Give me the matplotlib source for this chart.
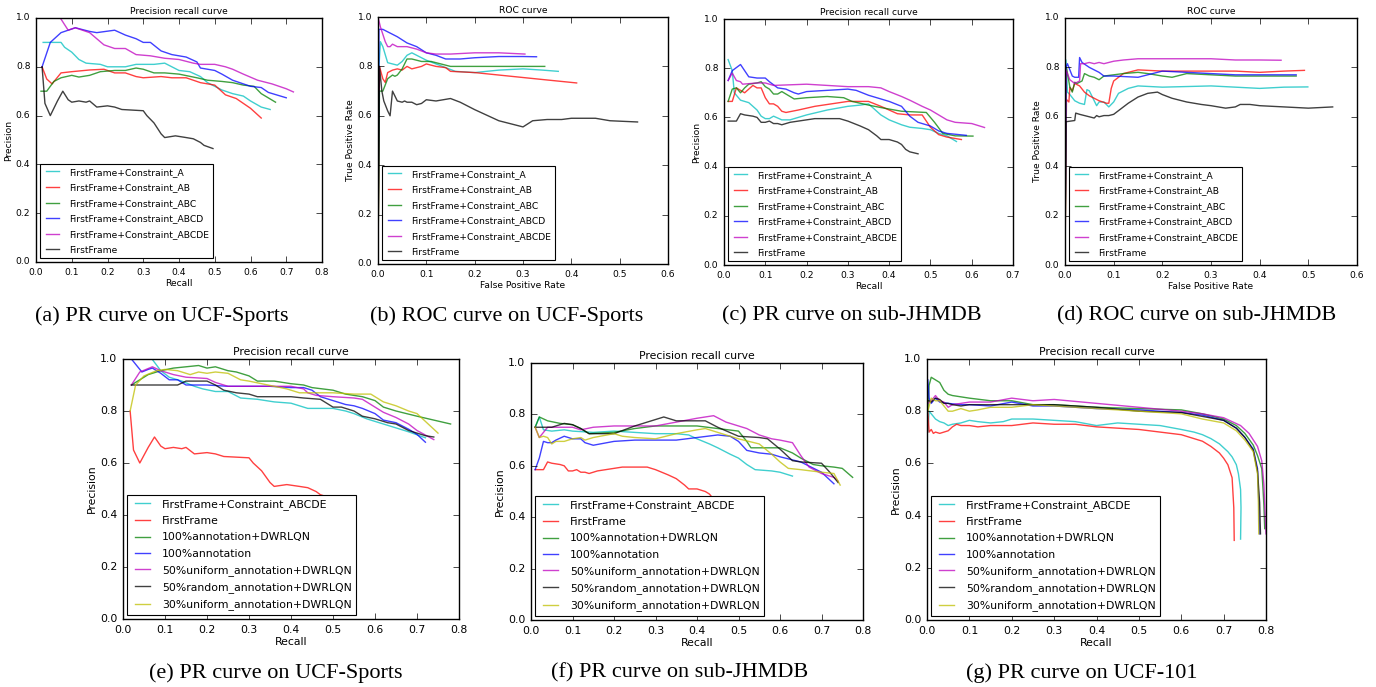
import numpy as np
import matplotlib
matplotlib.use("Agg")
import matplotlib.pyplot as plt

plt.style.use("classic")
plt.rcParams["figure.facecolor"] = "white"
plt.rcParams["savefig.facecolor"] = "white"

# ---------------- (a) PR on UCF-Sports ----------------
a_A_x = [0.02, 0.07, 0.08, 0.10, 0.12, 0.14, 0.18, 0.20, 0.25, 0.28, 0.33, 0.36, 0.38, 0.40, 0.43, 0.46, 0.48, 0.52, 0.55, 0.58, 0.60, 0.63, 0.655]
a_A_y = [0.90, 0.90, 0.88, 0.86, 0.83, 0.815, 0.81, 0.80, 0.80, 0.81, 0.81, 0.815, 0.80, 0.785, 0.78, 0.76, 0.735, 0.705, 0.69, 0.68, 0.66, 0.635, 0.625]
a_AB_x = [0.017, 0.03, 0.045, 0.07, 0.10, 0.15, 0.19, 0.22, 0.25, 0.28, 0.30, 0.35, 0.38, 0.42, 0.46, 0.50, 0.53, 0.56, 0.58, 0.60, 0.63]
a_AB_y = [0.80, 0.75, 0.73, 0.775, 0.78, 0.787, 0.79, 0.775, 0.775, 0.76, 0.755, 0.76, 0.755, 0.755, 0.735, 0.725, 0.685, 0.67, 0.65, 0.63, 0.59]
a_ABC_x = [0.014, 0.03, 0.05, 0.07, 0.10, 0.12, 0.15, 0.18, 0.22, 0.25, 0.28, 0.30, 0.33, 0.36, 0.40, 0.45, 0.48, 0.52, 0.55, 0.58, 0.61, 0.63, 0.67]
a_ABC_y = [0.70, 0.70, 0.74, 0.755, 0.765, 0.758, 0.765, 0.78, 0.785, 0.785, 0.795, 0.79, 0.775, 0.775, 0.77, 0.755, 0.745, 0.74, 0.735, 0.725, 0.72, 0.69, 0.655]
a_ABCD_x = [0.017, 0.04, 0.07, 0.11, 0.15, 0.17, 0.22, 0.25, 0.28, 0.30, 0.32, 0.35, 0.38, 0.42, 0.45, 0.46, 0.50, 0.52, 0.55, 0.58, 0.60, 0.63, 0.65, 0.70]
a_ABCD_y = [0.80, 0.90, 0.94, 0.96, 0.945, 0.94, 0.95, 0.93, 0.915, 0.90, 0.90, 0.865, 0.85, 0.84, 0.82, 0.795, 0.785, 0.77, 0.745, 0.73, 0.72, 0.715, 0.695, 0.673]
a_ABCDE_x = [0.02, 0.068, 0.09, 0.11, 0.15, 0.19, 0.22, 0.25, 0.28, 0.32, 0.36, 0.40, 0.44, 0.46, 0.50, 0.53, 0.55, 0.58, 0.62, 0.66, 0.70, 0.72]
a_ABCDE_y = [1.0, 1.0, 0.95, 0.96, 0.94, 0.89, 0.875, 0.875, 0.85, 0.845, 0.835, 0.83, 0.815, 0.81, 0.81, 0.80, 0.79, 0.77, 0.745, 0.73, 0.71, 0.697]
a_FF_x = [0.017, 0.025, 0.04, 0.06, 0.075, 0.09, 0.10, 0.12, 0.14, 0.15, 0.17, 0.20, 0.22, 0.24, 0.30, 0.31, 0.33, 0.35, 0.36, 0.39, 0.42, 0.44, 0.46, 0.47, 0.495]
a_FF_y = [0.80, 0.65, 0.60, 0.66, 0.70, 0.665, 0.655, 0.66, 0.655, 0.66, 0.635, 0.64, 0.635, 0.625, 0.62, 0.60, 0.57, 0.525, 0.51, 0.517, 0.51, 0.505, 0.49, 0.478, 0.465]

# ---------------- (b) ROC on UCF-Sports ----------------
b_A_x = [0, 0.002, 0.005, 0.01, 0.02, 0.03, 0.04, 0.05, 0.06, 0.07, 0.08, 0.10, 0.12, 0.14, 0.16, 0.20, 0.25, 0.30, 0.34, 0.373]
b_A_y = [0, 0.80, 0.90, 0.88, 0.815, 0.81, 0.805, 0.82, 0.845, 0.855, 0.845, 0.825, 0.81, 0.795, 0.78, 0.775, 0.785, 0.79, 0.785, 0.78]
b_AB_x = [0, 0.003, 0.01, 0.015, 0.02, 0.03, 0.04, 0.05, 0.06, 0.07, 0.08, 0.09, 0.10, 0.12, 0.14, 0.15, 0.20, 0.25, 0.30, 0.35, 0.411]
b_AB_y = [0, 0.80, 0.75, 0.735, 0.775, 0.785, 0.79, 0.785, 0.80, 0.79, 0.795, 0.80, 0.81, 0.80, 0.795, 0.78, 0.775, 0.765, 0.755, 0.745, 0.733]
b_ABC_x = [0, 0.003, 0.01, 0.02, 0.03, 0.035, 0.04, 0.05, 0.06, 0.07, 0.09, 0.11, 0.13, 0.15, 0.20, 0.30, 0.345]
b_ABC_y = [0, 0.70, 0.70, 0.75, 0.765, 0.76, 0.765, 0.79, 0.83, 0.83, 0.82, 0.82, 0.81, 0.80, 0.80, 0.80, 0.80]
b_ABCD_x = [0, 0.002, 0.01, 0.02, 0.04, 0.06, 0.08, 0.10, 0.12, 0.14, 0.17, 0.20, 0.25, 0.30, 0.328]
b_ABCD_y = [0, 0.95, 0.95, 0.94, 0.92, 0.895, 0.88, 0.855, 0.845, 0.83, 0.83, 0.835, 0.84, 0.84, 0.839]
b_ABCDE_x = [0, 0.005, 0.01, 0.015, 0.02, 0.025, 0.03, 0.035, 0.04, 0.06, 0.08, 0.10, 0.12, 0.15, 0.20, 0.25, 0.304]
b_ABCDE_y = [1.0, 0.96, 0.93, 0.90, 0.88, 0.88, 0.89, 0.885, 0.88, 0.88, 0.87, 0.855, 0.85, 0.85, 0.855, 0.855, 0.85]
b_FF_x = [0, 0.003, 0.008, 0.012, 0.02, 0.025, 0.03, 0.035, 0.04, 0.05, 0.055, 0.06, 0.07, 0.08, 0.09, 0.10, 0.12, 0.15, 0.17, 0.20, 0.25, 0.30, 0.32, 0.35, 0.38, 0.40, 0.45, 0.48, 0.537]
b_FF_y = [0, 0.80, 0.70, 0.66, 0.62, 0.60, 0.70, 0.68, 0.66, 0.655, 0.66, 0.655, 0.655, 0.645, 0.65, 0.665, 0.66, 0.67, 0.655, 0.625, 0.58, 0.555, 0.58, 0.585, 0.585, 0.59, 0.59, 0.58, 0.575]

# ---------------- (c) PR on sub-JHMDB ----------------
c_A_x = [0.01, 0.02, 0.025, 0.03, 0.04, 0.05, 0.06, 0.07, 0.08, 0.09, 0.10, 0.11, 0.12, 0.14, 0.16, 0.20, 0.25, 0.30, 0.33, 0.35, 0.36, 0.38, 0.40, 0.43, 0.45, 0.48, 0.50, 0.52, 0.54, 0.563]
c_A_y = [0.835, 0.79, 0.70, 0.69, 0.67, 0.665, 0.66, 0.645, 0.63, 0.605, 0.595, 0.595, 0.605, 0.59, 0.59, 0.61, 0.63, 0.645, 0.65, 0.655, 0.64, 0.61, 0.59, 0.57, 0.56, 0.555, 0.55, 0.535, 0.525, 0.502]
c_AB_x = [0.01, 0.02, 0.03, 0.04, 0.05, 0.07, 0.08, 0.09, 0.10, 0.11, 0.12, 0.13, 0.14, 0.15, 0.18, 0.22, 0.26, 0.30, 0.35, 0.38, 0.40, 0.42, 0.45, 0.48, 0.50, 0.52, 0.54, 0.575]
c_AB_y = [0.665, 0.665, 0.72, 0.71, 0.70, 0.73, 0.72, 0.72, 0.68, 0.655, 0.655, 0.645, 0.625, 0.62, 0.63, 0.645, 0.655, 0.665, 0.665, 0.645, 0.63, 0.615, 0.61, 0.61, 0.56, 0.53, 0.52, 0.51]
c_ABC_x = [0.01, 0.02, 0.03, 0.04, 0.05, 0.06, 0.08, 0.09, 0.10, 0.11, 0.12, 0.13, 0.14, 0.15, 0.17, 0.20, 0.25, 0.29, 0.31, 0.35, 0.38, 0.43, 0.49, 0.51, 0.53, 0.56, 0.603]
c_ABC_y = [0.665, 0.715, 0.72, 0.70, 0.72, 0.735, 0.74, 0.745, 0.725, 0.715, 0.695, 0.695, 0.705, 0.695, 0.675, 0.68, 0.685, 0.68, 0.665, 0.65, 0.64, 0.625, 0.62, 0.58, 0.535, 0.525, 0.524]
c_ABCD_x = [0.01, 0.02, 0.04, 0.05, 0.06, 0.08, 0.10, 0.11, 0.13, 0.15, 0.17, 0.18, 0.20, 0.25, 0.30, 0.32, 0.35, 0.40, 0.43, 0.45, 0.47, 0.50, 0.52, 0.54, 0.587]
c_ABCD_y = [0.75, 0.79, 0.815, 0.79, 0.765, 0.76, 0.76, 0.745, 0.72, 0.715, 0.70, 0.695, 0.705, 0.71, 0.715, 0.71, 0.69, 0.665, 0.645, 0.605, 0.58, 0.565, 0.545, 0.535, 0.527]
c_ABCDE_x = [0.01, 0.02, 0.03, 0.04, 0.045, 0.08, 0.10, 0.12, 0.20, 0.25, 0.30, 0.35, 0.38, 0.40, 0.43, 0.45, 0.48, 0.50, 0.52, 0.54, 0.56, 0.60, 0.631]
c_ABCDE_y = [0.75, 0.78, 0.75, 0.745, 0.735, 0.74, 0.74, 0.73, 0.735, 0.73, 0.725, 0.725, 0.72, 0.705, 0.685, 0.67, 0.645, 0.63, 0.61, 0.59, 0.58, 0.575, 0.559]
c_FF_x = [0.01, 0.03, 0.04, 0.05, 0.07, 0.08, 0.09, 0.10, 0.11, 0.12, 0.13, 0.14, 0.16, 0.20, 0.22, 0.28, 0.30, 0.33, 0.35, 0.37, 0.38, 0.40, 0.42, 0.43, 0.44, 0.45, 0.47]
c_FF_y = [0.585, 0.585, 0.615, 0.61, 0.605, 0.60, 0.58, 0.58, 0.585, 0.575, 0.575, 0.57, 0.58, 0.59, 0.595, 0.595, 0.585, 0.565, 0.55, 0.525, 0.51, 0.51, 0.50, 0.49, 0.47, 0.46, 0.452]

# ---------------- (d) ROC on sub-JHMDB ----------------
d_A_x = [0, 0.002, 0.005, 0.01, 0.02, 0.03, 0.04, 0.045, 0.05, 0.06, 0.065, 0.07, 0.08, 0.09, 0.10, 0.11, 0.13, 0.15, 0.20, 0.30, 0.35, 0.40, 0.45, 0.499]
d_A_y = [0, 0.83, 0.70, 0.69, 0.665, 0.655, 0.65, 0.71, 0.705, 0.665, 0.645, 0.66, 0.66, 0.64, 0.66, 0.695, 0.715, 0.725, 0.72, 0.725, 0.72, 0.715, 0.72, 0.721]
d_AB_x = [0, 0.003, 0.008, 0.01, 0.015, 0.02, 0.03, 0.04, 0.05, 0.06, 0.07, 0.085, 0.09, 0.095, 0.10, 0.12, 0.15, 0.20, 0.30, 0.35, 0.40, 0.45, 0.492]
d_AB_y = [0, 0.67, 0.66, 0.72, 0.705, 0.735, 0.725, 0.70, 0.685, 0.675, 0.665, 0.655, 0.655, 0.715, 0.745, 0.775, 0.79, 0.785, 0.785, 0.785, 0.78, 0.785, 0.788]
d_ABC_x = [0, 0.003, 0.01, 0.015, 0.02, 0.025, 0.03, 0.035, 0.04, 0.05, 0.06, 0.07, 0.08, 0.10, 0.12, 0.15, 0.17, 0.20, 0.22, 0.25, 0.30, 0.35, 0.40, 0.475]
d_ABC_y = [0, 0.80, 0.72, 0.70, 0.74, 0.735, 0.74, 0.745, 0.775, 0.765, 0.76, 0.75, 0.765, 0.77, 0.775, 0.78, 0.775, 0.765, 0.76, 0.775, 0.77, 0.765, 0.765, 0.765]
d_ABCD_x = [0, 0.002, 0.005, 0.01, 0.015, 0.02, 0.028, 0.03, 0.035, 0.05, 0.07, 0.08, 0.10, 0.15, 0.20, 0.25, 0.30, 0.35, 0.40, 0.475]
d_ABCD_y = [0, 0.80, 0.815, 0.79, 0.765, 0.76, 0.76, 0.84, 0.82, 0.80, 0.78, 0.765, 0.765, 0.76, 0.785, 0.78, 0.775, 0.77, 0.77, 0.77]
d_ABCDE_x = [0, 0.002, 0.01, 0.02, 0.025, 0.03, 0.032, 0.04, 0.05, 0.06, 0.07, 0.08, 0.09, 0.10, 0.12, 0.15, 0.20, 0.25, 0.30, 0.35, 0.40, 0.444]
d_ABCDE_y = [0, 0.79, 0.75, 0.735, 0.74, 0.745, 0.815, 0.815, 0.82, 0.815, 0.82, 0.815, 0.82, 0.825, 0.83, 0.835, 0.835, 0.835, 0.835, 0.83, 0.83, 0.829]
d_FF_x = [0, 0.002, 0.02, 0.022, 0.03, 0.04, 0.05, 0.06, 0.065, 0.07, 0.08, 0.09, 0.10, 0.11, 0.13, 0.15, 0.17, 0.19, 0.20, 0.22, 0.25, 0.28, 0.30, 0.33, 0.35, 0.36, 0.38, 0.40, 0.45, 0.50, 0.55]
d_FF_y = [0, 0.58, 0.585, 0.615, 0.61, 0.605, 0.60, 0.595, 0.605, 0.60, 0.605, 0.605, 0.61, 0.625, 0.655, 0.68, 0.695, 0.70, 0.69, 0.675, 0.66, 0.65, 0.645, 0.635, 0.64, 0.65, 0.65, 0.645, 0.64, 0.635, 0.64]

# ---------------- (e) PR on UCF-Sports, annotation study ----------------
e_ABCDE_x = [0.069, 0.09, 0.11, 0.14, 0.17, 0.19, 0.22, 0.25, 0.28, 0.32, 0.36, 0.40, 0.42, 0.44, 0.50, 0.53, 0.55, 0.58, 0.62, 0.65, 0.68, 0.72]
e_ABCDE_y = [1.0, 0.955, 0.93, 0.915, 0.895, 0.885, 0.875, 0.875, 0.85, 0.845, 0.835, 0.83, 0.82, 0.81, 0.81, 0.80, 0.79, 0.77, 0.75, 0.735, 0.72, 0.697]
e_FF_x = [0.017, 0.025, 0.04, 0.06, 0.075, 0.09, 0.10, 0.12, 0.14, 0.15, 0.17, 0.20, 0.22, 0.24, 0.30, 0.31, 0.33, 0.35, 0.36, 0.39, 0.42, 0.44, 0.46, 0.47, 0.495]
e_FF_y = [0.80, 0.65, 0.60, 0.66, 0.70, 0.665, 0.655, 0.66, 0.655, 0.66, 0.635, 0.64, 0.635, 0.625, 0.62, 0.60, 0.57, 0.525, 0.51, 0.517, 0.51, 0.505, 0.49, 0.478, 0.465]
e_full_dw_x = [0.02, 0.06, 0.09, 0.12, 0.15, 0.18, 0.20, 0.22, 0.25, 0.27, 0.30, 0.32, 0.36, 0.40, 0.43, 0.45, 0.50, 0.53, 0.57, 0.60, 0.62, 0.65, 0.70, 0.74, 0.78]
e_full_dw_y = [0.90, 0.94, 0.955, 0.965, 0.97, 0.975, 0.965, 0.97, 0.955, 0.95, 0.935, 0.915, 0.915, 0.905, 0.90, 0.89, 0.88, 0.865, 0.855, 0.84, 0.815, 0.80, 0.78, 0.765, 0.75]
e_full_x = [0.02, 0.045, 0.06, 0.07, 0.09, 0.11, 0.13, 0.15, 0.20, 0.25, 0.30, 0.35, 0.40, 0.43, 0.45, 0.47, 0.50, 0.53, 0.55, 0.57, 0.60, 0.62, 0.65, 0.68, 0.70, 0.72]
e_full_y = [1.0, 0.95, 0.96, 0.965, 0.945, 0.92, 0.92, 0.90, 0.90, 0.895, 0.895, 0.895, 0.89, 0.89, 0.88, 0.855, 0.84, 0.825, 0.82, 0.81, 0.79, 0.765, 0.755, 0.73, 0.71, 0.68]
e_uni50_x = [0.02, 0.04, 0.07, 0.09, 0.12, 0.15, 0.20, 0.22, 0.25, 0.30, 0.40, 0.43, 0.44, 0.46, 0.50, 0.55, 0.57, 0.60, 0.62, 0.65, 0.68, 0.70, 0.74]
e_uni50_y = [0.90, 0.95, 0.97, 0.955, 0.94, 0.93, 0.925, 0.91, 0.895, 0.895, 0.895, 0.885, 0.87, 0.86, 0.855, 0.85, 0.845, 0.815, 0.795, 0.775, 0.75, 0.725, 0.69]
e_rnd50_x = [0.02, 0.13, 0.15, 0.20, 0.22, 0.24, 0.27, 0.30, 0.32, 0.35, 0.38, 0.40, 0.43, 0.47, 0.50, 0.52, 0.55, 0.57, 0.60, 0.63, 0.65, 0.68, 0.72, 0.74]
e_rnd50_y = [0.90, 0.90, 0.915, 0.915, 0.90, 0.88, 0.87, 0.865, 0.855, 0.855, 0.855, 0.855, 0.85, 0.845, 0.815, 0.815, 0.80, 0.78, 0.77, 0.755, 0.75, 0.725, 0.705, 0.70]
e_uni30_x = [0.017, 0.03, 0.05, 0.08, 0.10, 0.13, 0.16, 0.18, 0.20, 0.22, 0.25, 0.28, 0.30, 0.33, 0.36, 0.39, 0.42, 0.45, 0.50, 0.55, 0.59, 0.62, 0.65, 0.68, 0.70, 0.72, 0.75]
e_uni30_y = [0.80, 0.90, 0.935, 0.955, 0.96, 0.955, 0.94, 0.95, 0.945, 0.95, 0.945, 0.92, 0.915, 0.905, 0.895, 0.885, 0.87, 0.87, 0.87, 0.865, 0.865, 0.835, 0.82, 0.80, 0.79, 0.76, 0.715]

# ---------------- (f) PR on sub-JHMDB, annotation study ----------------
f_ABCDE_x = [0.01, 0.02, 0.03, 0.05, 0.08, 0.10, 0.15, 0.20, 0.25, 0.30, 0.35, 0.38, 0.40, 0.43, 0.45, 0.48, 0.50, 0.52, 0.54, 0.58, 0.60, 0.63]
f_ABCDE_y = [0.75, 0.79, 0.74, 0.735, 0.74, 0.735, 0.73, 0.735, 0.73, 0.725, 0.725, 0.72, 0.705, 0.685, 0.67, 0.645, 0.63, 0.605, 0.585, 0.58, 0.575, 0.56]
f_FF_x = [0.01, 0.03, 0.04, 0.05, 0.07, 0.08, 0.09, 0.10, 0.11, 0.12, 0.13, 0.14, 0.16, 0.20, 0.22, 0.28, 0.30, 0.33, 0.35, 0.37, 0.38, 0.40, 0.42, 0.43, 0.44, 0.45]
f_FF_y = [0.585, 0.585, 0.615, 0.61, 0.605, 0.60, 0.58, 0.58, 0.585, 0.575, 0.575, 0.57, 0.58, 0.59, 0.595, 0.595, 0.585, 0.565, 0.55, 0.525, 0.51, 0.51, 0.50, 0.49, 0.47, 0.46]
f_full_dw_x = [0.01, 0.02, 0.04, 0.07, 0.10, 0.12, 0.14, 0.20, 0.25, 0.30, 0.35, 0.40, 0.45, 0.50, 0.52, 0.53, 0.57, 0.60, 0.63, 0.65, 0.68, 0.70, 0.73, 0.75, 0.775]
f_full_dw_y = [0.75, 0.79, 0.775, 0.765, 0.76, 0.745, 0.725, 0.73, 0.745, 0.755, 0.755, 0.755, 0.745, 0.735, 0.695, 0.67, 0.67, 0.67, 0.65, 0.63, 0.605, 0.60, 0.595, 0.59, 0.555]
f_full_x = [0.01, 0.02, 0.03, 0.04, 0.05, 0.06, 0.08, 0.10, 0.12, 0.13, 0.15, 0.20, 0.25, 0.30, 0.35, 0.40, 0.45, 0.48, 0.50, 0.52, 0.55, 0.58, 0.60, 0.65, 0.70, 0.73]
f_full_y = [0.585, 0.63, 0.695, 0.69, 0.69, 0.70, 0.715, 0.705, 0.705, 0.69, 0.68, 0.695, 0.70, 0.70, 0.70, 0.71, 0.72, 0.715, 0.695, 0.66, 0.65, 0.645, 0.635, 0.615, 0.575, 0.53]
f_uni50_x = [0.01, 0.02, 0.04, 0.10, 0.12, 0.15, 0.20, 0.25, 0.30, 0.35, 0.40, 0.44, 0.47, 0.50, 0.52, 0.55, 0.58, 0.60, 0.63, 0.65, 0.67, 0.70, 0.73, 0.74]
f_uni50_y = [0.75, 0.71, 0.75, 0.75, 0.74, 0.75, 0.755, 0.755, 0.755, 0.77, 0.785, 0.795, 0.77, 0.755, 0.745, 0.72, 0.705, 0.70, 0.69, 0.64, 0.595, 0.57, 0.555, 0.54]
f_rnd50_x = [0.01, 0.05, 0.08, 0.10, 0.12, 0.14, 0.20, 0.25, 0.30, 0.32, 0.35, 0.40, 0.42, 0.45, 0.50, 0.55, 0.57, 0.60, 0.63, 0.65, 0.70, 0.72, 0.74]
f_rnd50_y = [0.75, 0.75, 0.765, 0.76, 0.745, 0.725, 0.725, 0.755, 0.78, 0.79, 0.775, 0.775, 0.775, 0.75, 0.715, 0.71, 0.705, 0.665, 0.62, 0.615, 0.61, 0.575, 0.535]
f_uni30_x = [0.01, 0.02, 0.03, 0.04, 0.05, 0.06, 0.08, 0.10, 0.12, 0.13, 0.15, 0.20, 0.22, 0.25, 0.30, 0.35, 0.40, 0.42, 0.45, 0.50, 0.55, 0.58, 0.60, 0.62, 0.65, 0.70, 0.73, 0.745]
f_uni30_y = [0.75, 0.71, 0.715, 0.71, 0.685, 0.695, 0.695, 0.705, 0.71, 0.70, 0.71, 0.725, 0.715, 0.71, 0.705, 0.725, 0.74, 0.745, 0.73, 0.705, 0.685, 0.645, 0.615, 0.59, 0.585, 0.575, 0.57, 0.525]

# ---------------- (g) PR on UCF-101 ----------------
g_ABCDE_x = [0.002, 0.005, 0.01, 0.02, 0.03, 0.04, 0.05, 0.06, 0.08, 0.10, 0.12, 0.15, 0.18, 0.20, 0.25, 0.30, 0.35, 0.40, 0.45, 0.50, 0.55, 0.60, 0.63, 0.65, 0.67, 0.69, 0.71, 0.72, 0.73, 0.735, 0.74, 0.741, 0.74]
g_ABCDE_y = [0.72, 0.80, 0.79, 0.77, 0.76, 0.755, 0.745, 0.75, 0.755, 0.765, 0.76, 0.755, 0.76, 0.77, 0.77, 0.765, 0.76, 0.745, 0.755, 0.75, 0.745, 0.73, 0.72, 0.71, 0.695, 0.675, 0.645, 0.625, 0.595, 0.56, 0.50, 0.43, 0.31]
g_FF_x = [0.002, 0.005, 0.01, 0.015, 0.02, 0.03, 0.04, 0.05, 0.06, 0.07, 0.08, 0.10, 0.12, 0.15, 0.20, 0.25, 0.30, 0.35, 0.40, 0.45, 0.50, 0.55, 0.60, 0.63, 0.65, 0.67, 0.69, 0.70, 0.71, 0.72, 0.724, 0.725]
g_FF_y = [0.80, 0.72, 0.73, 0.715, 0.72, 0.715, 0.72, 0.725, 0.74, 0.75, 0.745, 0.745, 0.74, 0.745, 0.745, 0.755, 0.75, 0.75, 0.74, 0.735, 0.73, 0.72, 0.71, 0.695, 0.685, 0.665, 0.64, 0.62, 0.595, 0.545, 0.43, 0.305]
g_full_dw_x = [0.002, 0.005, 0.01, 0.02, 0.03, 0.04, 0.05, 0.06, 0.08, 0.10, 0.15, 0.20, 0.25, 0.30, 0.40, 0.50, 0.60, 0.65, 0.70, 0.73, 0.75, 0.77, 0.78, 0.79, 0.793, 0.795, 0.797]
g_full_dw_y = [0.80, 0.90, 0.93, 0.92, 0.91, 0.88, 0.865, 0.86, 0.855, 0.85, 0.84, 0.84, 0.825, 0.825, 0.815, 0.81, 0.805, 0.79, 0.77, 0.745, 0.715, 0.67, 0.63, 0.58, 0.50, 0.44, 0.35]
g_full_x = [0.002, 0.005, 0.01, 0.02, 0.03, 0.05, 0.08, 0.10, 0.15, 0.20, 0.25, 0.30, 0.40, 0.50, 0.60, 0.65, 0.70, 0.73, 0.75, 0.77, 0.78, 0.783, 0.785]
g_full_y = [0.92, 0.85, 0.83, 0.85, 0.835, 0.83, 0.825, 0.825, 0.82, 0.835, 0.82, 0.82, 0.81, 0.805, 0.795, 0.785, 0.765, 0.735, 0.70, 0.655, 0.58, 0.45, 0.33]
g_uni50_x = [0.002, 0.01, 0.02, 0.03, 0.04, 0.05, 0.06, 0.08, 0.10, 0.15, 0.20, 0.25, 0.30, 0.40, 0.50, 0.60, 0.65, 0.70, 0.74, 0.76, 0.78, 0.79, 0.795, 0.798, 0.80]
g_uni50_y = [0.83, 0.84, 0.86, 0.84, 0.835, 0.815, 0.825, 0.83, 0.835, 0.835, 0.85, 0.84, 0.845, 0.83, 0.815, 0.80, 0.79, 0.775, 0.745, 0.715, 0.665, 0.61, 0.52, 0.40, 0.33]
g_rnd50_x = [0.002, 0.005, 0.01, 0.02, 0.03, 0.04, 0.05, 0.06, 0.08, 0.10, 0.15, 0.20, 0.25, 0.30, 0.40, 0.50, 0.60, 0.65, 0.70, 0.73, 0.75, 0.77, 0.78, 0.785, 0.787]
g_rnd50_y = [0.84, 0.84, 0.835, 0.85, 0.845, 0.83, 0.83, 0.825, 0.82, 0.825, 0.825, 0.825, 0.825, 0.825, 0.815, 0.80, 0.795, 0.78, 0.765, 0.735, 0.70, 0.65, 0.57, 0.45, 0.33]
g_uni30_x = [0.002, 0.01, 0.02, 0.03, 0.04, 0.05, 0.06, 0.08, 0.10, 0.12, 0.15, 0.20, 0.25, 0.30, 0.40, 0.50, 0.60, 0.65, 0.70, 0.73, 0.75, 0.77, 0.78, 0.782, 0.783]
g_uni30_y = [0.80, 0.85, 0.84, 0.84, 0.82, 0.80, 0.80, 0.81, 0.80, 0.805, 0.815, 0.815, 0.825, 0.82, 0.81, 0.80, 0.79, 0.77, 0.755, 0.725, 0.69, 0.645, 0.56, 0.45, 0.33]

top_labels = ["FirstFrame+Constraint_A", "FirstFrame+Constraint_AB", "FirstFrame+Constraint_ABC",
              "FirstFrame+Constraint_ABCD", "FirstFrame+Constraint_ABCDE", "FirstFrame"]
bottom_labels = ["FirstFrame+Constraint_ABCDE", "FirstFrame", "100%annotation+DWRLQN", "100%annotation",
                 "50%uniform_annotation+DWRLQN", "50%random_annotation+DWRLQN", "30%uniform_annotation+DWRLQN"]
top_colors = ["c", "r", "g", "b", "m", "k"]
bottom_colors = ["c", "r", "g", "b", "m", "k", "y"]

captions = ["(a) PR curve on UCF-Sports", "(b) ROC curve on UCF-Sports", "(c) PR curve on sub-JHMDB",
            "(d) ROC curve on sub-JHMDB", "(e) PR curve on UCF-Sports", "(f) PR curve on sub-JHMDB",
            "(g) PR curve on UCF-101"]


def draw(ax, curves, labels, colors, title, xlabel, ylabel, xmax, fs, spacing):
    for (x, y), lab, col in zip(curves, labels, colors):
        ax.plot(x, y, color=col, alpha=0.75, lw=1.0, label=lab)
    ax.set_xlim(0, xmax)
    ax.set_ylim(0, 1.0)
    ax.set_xticks(np.arange(0, xmax + 1e-9, 0.1))
    ax.set_yticks(np.arange(0, 1.01, 0.2))
    ax.tick_params(labelsize=fs, length=4, direction="in", top=True, right=True)
    ax.set_title(title, fontsize=fs, pad=3)
    ax.set_xlabel(xlabel, fontsize=fs, labelpad=2)
    ax.set_ylabel(ylabel, fontsize=fs, labelpad=2)
    leg = ax.legend(loc="lower left", fontsize=fs, fancybox=False, framealpha=1.0,
                    borderaxespad=0.4, handlelength=2.0, labelspacing=spacing)
    leg.get_frame().set_edgecolor("black")
    leg.get_frame().set_linewidth(0.8)


fig = plt.figure(figsize=(13.76, 6.87), dpi=100)
W, H = 1376.0, 687.0


def add_axes(x0, y0, x1, y1):
    return fig.add_axes([x0 / W, 1 - y1 / H, (x1 - x0) / W, (y1 - y0) / H])


fs_top = 6.6
fs_bot = 7.8
sp_top = 0.72
sp_bot = 0.58

ax = add_axes(36, 18, 322, 262)
draw(ax, [(a_A_x, a_A_y), (a_AB_x, a_AB_y), (a_ABC_x, a_ABC_y), (a_ABCD_x, a_ABCD_y),
          (a_ABCDE_x, a_ABCDE_y), (a_FF_x, a_FF_y)],
     top_labels, top_colors, "Precision recall curve", "Recall", "Precision", 0.8, fs_top, sp_top)

ax = add_axes(378, 17, 668, 264)
draw(ax, [(b_A_x, b_A_y), (b_AB_x, b_AB_y), (b_ABC_x, b_ABC_y), (b_ABCD_x, b_ABCD_y),
          (b_ABCDE_x, b_ABCDE_y), (b_FF_x, b_FF_y)],
     top_labels, top_colors, "ROC curve", "False Positive Rate", "True Positive Rate", 0.6, fs_top, sp_top)

ax = add_axes(724, 19, 1013, 265)
draw(ax, [(c_A_x, c_A_y), (c_AB_x, c_AB_y), (c_ABC_x, c_ABC_y), (c_ABCD_x, c_ABCD_y),
          (c_ABCDE_x, c_ABCDE_y), (c_FF_x, c_FF_y)],
     top_labels, top_colors, "Precision recall curve", "Recall", "Precision", 0.7, fs_top, sp_top)

ax = add_axes(1065, 18, 1357, 265)
draw(ax, [(d_A_x, d_A_y), (d_AB_x, d_AB_y), (d_ABC_x, d_ABC_y), (d_ABCD_x, d_ABCD_y),
          (d_ABCDE_x, d_ABCDE_y), (d_FF_x, d_FF_y)],
     top_labels, top_colors, "ROC curve", "False Positive Rate", "True Positive Rate", 0.6, fs_top, sp_top)

ax = add_axes(123, 359, 459, 619)
draw(ax, [(e_ABCDE_x, e_ABCDE_y), (e_FF_x, e_FF_y), (e_full_dw_x, e_full_dw_y), (e_full_x, e_full_y),
          (e_uni50_x, e_uni50_y), (e_rnd50_x, e_rnd50_y), (e_uni30_x, e_uni30_y)],
     bottom_labels, bottom_colors, "Precision recall curve", "Recall", "Precision", 0.8, fs_bot, sp_bot)

ax = add_axes(531, 363, 863, 620)
draw(ax, [(f_ABCDE_x, f_ABCDE_y), (f_FF_x, f_FF_y), (f_full_dw_x, f_full_dw_y), (f_full_x, f_full_y),
          (f_uni50_x, f_uni50_y), (f_rnd50_x, f_rnd50_y), (f_uni30_x, f_uni30_y)],
     bottom_labels, bottom_colors, "Precision recall curve", "Recall", "Precision", 0.8, fs_bot, sp_bot)

ax = add_axes(927, 359, 1266, 620)
draw(ax, [(g_ABCDE_x, g_ABCDE_y), (g_FF_x, g_FF_y), (g_full_dw_x, g_full_dw_y), (g_full_x, g_full_y),
          (g_uni50_x, g_uni50_y), (g_rnd50_x, g_rnd50_y), (g_uni30_x, g_uni30_y)],
     bottom_labels, bottom_colors, "Precision recall curve", "Recall", "Precision", 0.8, fs_bot, sp_bot)

cap_x = [162, 507, 852, 1197, 276, 680, 1082]
cap_y = [316, 316, 316, 316, 673, 673, 673]
for txt, cx, cy in zip(captions, cap_x, cap_y):
    fig.text(cx / W, 1 - cy / H, txt, ha="center", va="center",
             fontsize=16, family="Liberation Serif")

fig.savefig("out.png", dpi=100)
